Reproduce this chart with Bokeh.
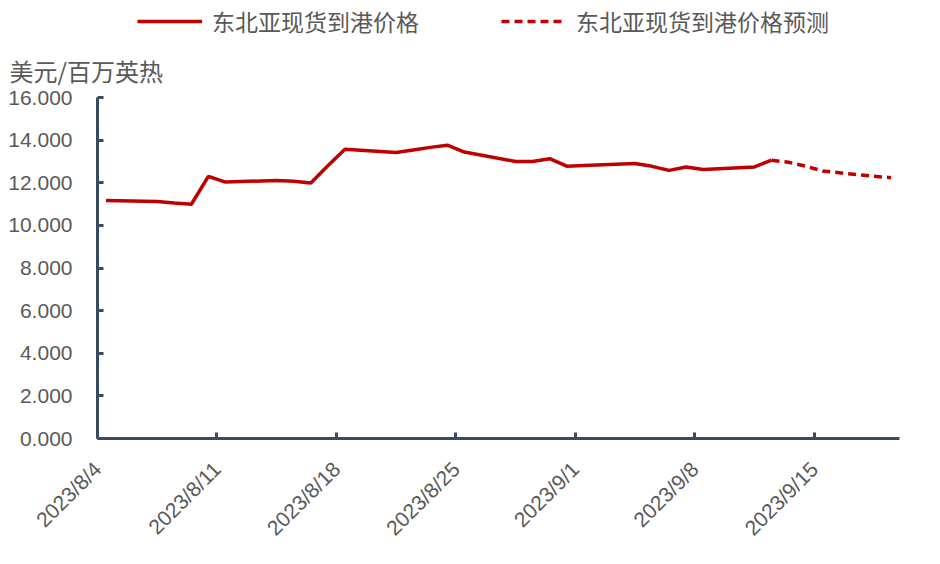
import math
import pandas as pd
from bokeh.plotting import figure
from bokeh.layouts import column
from bokeh.models import Range1d, FixedTicker, Legend, LegendItem, NumeralTickFormatter
from bokeh.embed import file_html
from bokeh.resources import INLINE

# ---- data ----
start_date = "2023/8/4"
tick_labels = ["2023/8/4", "2023/8/11", "2023/8/18", "2023/8/25", "2023/9/1", "2023/9/8", "2023/9/15"]
actual_dates = ["2023/8/4", "2023/8/7", "2023/8/8", "2023/8/9", "2023/8/10", "2023/8/11",
                "2023/8/14", "2023/8/15", "2023/8/16", "2023/8/17", "2023/8/18",
                "2023/8/21", "2023/8/22", "2023/8/23", "2023/8/24", "2023/8/25",
                "2023/8/28", "2023/8/29", "2023/8/30", "2023/8/31", "2023/9/1",
                "2023/9/4", "2023/9/5", "2023/9/6", "2023/9/7", "2023/9/8",
                "2023/9/11", "2023/9/12"]
actual_values = [11.17, 11.12, 11.05, 10.99, 12.30, 12.03,
                 12.11, 12.07, 11.99, 12.80, 13.57,
                 13.42, 13.54, 13.66, 13.76, 13.44,
                 13.00, 13.00, 13.13, 12.78, 12.81,
                 12.90, 12.77, 12.58, 12.74, 12.62,
                 12.74, 13.06]
forecast_dates = ["2023/9/12", "2023/9/13", "2023/9/14", "2023/9/15", "2023/9/18", "2023/9/19"]
forecast_values = [13.06, 12.96, 12.78, 12.55, 12.30, 12.24]
y_ticks = [0, 2, 4, 6, 8, 10, 12, 14, 16]
series_names = ["东北亚现货到港价格", "东北亚现货到港价格预测"]
unit_label = "美元/百万英热"

t0 = pd.to_datetime(start_date, format="%Y/%m/%d")
def day_pos(ds, offset=0.5):
    return [(pd.to_datetime(d, format="%Y/%m/%d") - t0).days + offset for d in ds]

ax = day_pos(actual_dates)
fx = day_pos(forecast_dates)
tick_pos = day_pos(tick_labels, 0)

AXIS = "#3A4A63"
LBL = "#595959"
RED = "#C00000"
NUM_FONT = "Liberation Sans"
CJK = "Noto Sans CJK SC"
DASH = "8 5"
LW = 3.5
W = 940
H = 564
TOP_H = 40
BL, BR = 97, 41

# ---- header: legend only (its lines lie outside this strip's y range, so only the legend shows) ----
top = figure(width=W, height=TOP_H, output_backend="svg", toolbar_location=None,
             x_range=Range1d(0, 47), y_range=Range1d(100, 116),
             x_axis_location=None, y_axis_location=None,
             min_border_left=BL, min_border_right=BR, min_border_top=0, min_border_bottom=0)
top.outline_line_color = None
top.xgrid.grid_line_color = None
top.ygrid.grid_line_color = None
lg1 = top.line(ax, actual_values, line_color=RED, line_width=LW)
lg2 = top.line(fx, forecast_values, line_color=RED, line_width=LW, line_dash=DASH)
legend = Legend(items=[LegendItem(label=series_names[0], renderers=[lg1]),
                       LegendItem(label=series_names[1], renderers=[lg2])],
                orientation="horizontal", location=(40, 2),
                label_text_font=CJK, label_text_font_size="23px", label_text_color=LBL,
                glyph_width=65, glyph_height=24, label_standoff=10, spacing=82,
                border_line_color=None, background_fill_alpha=0, padding=0, margin=0)
top.add_layout(legend)

# ---- main chart ----
p = figure(width=W, height=H - TOP_H, output_backend="svg", toolbar_location=None,
           x_range=Range1d(0, 47), y_range=Range1d(0, 16),
           min_border_left=BL, min_border_right=BR, min_border_top=97 - TOP_H, min_border_bottom=126)
p.outline_line_color = None
p.xgrid.grid_line_color = None
p.ygrid.grid_line_color = None

p.line(ax, actual_values, line_color=RED, line_width=LW)
p.line(fx, forecast_values, line_color=RED, line_width=LW, line_dash=DASH)

p.yaxis.ticker = FixedTicker(ticks=y_ticks)
p.yaxis.formatter = NumeralTickFormatter(format="0.000")
p.xaxis.ticker = FixedTicker(ticks=tick_pos)
p.xaxis.major_label_overrides = {tp: lab for tp, lab in zip(tick_pos, tick_labels)}
p.xaxis.major_label_orientation = math.pi / 4

for a in (p.xaxis[0], p.yaxis[0]):
    a.axis_line_color = AXIS
    a.axis_line_width = 3
    a.major_tick_line_color = AXIS
    a.major_tick_line_width = 3
    a.major_tick_in = 6
    a.major_tick_out = 0
    a.minor_tick_line_color = None
    a.major_label_text_color = LBL
    a.major_label_text_font = NUM_FONT
    a.major_label_text_font_size = "21px"
p.yaxis.major_label_standoff = 25
p.xaxis.major_label_standoff = 27

p.title.text = unit_label
p.title.text_font = CJK
p.title.text_font_size = "24px"
p.title.text_font_style = "normal"
p.title.text_color = LBL
p.title.align = "left"
p.title.offset = -(BL - 9)
p.title.standoff = 19

layout = column(top, p, spacing=0)
open("out.html", "w").write(file_html(layout, INLINE))
